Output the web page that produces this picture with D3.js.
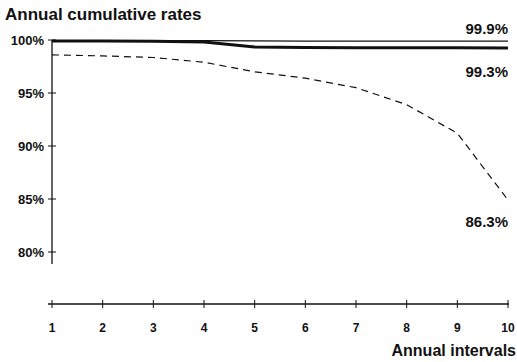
<!DOCTYPE html>
<html>
<head>
<meta charset="utf-8">
<script src="https://cdn.jsdelivr.net/npm/d3@7"></script>
<style>
  body { margin: 0; background: #fff; }
  text { font-family: "Liberation Sans", Arial, sans-serif; fill: #111; }
</style>
</head>
<body>
<div class="chart"></div>
<script>
// data
var intervals = [1, 2, 3, 4, 5, 6, 7, 8, 9, 10];
var upperRates = [99.95, 99.95, 99.95, 99.95, 99.92, 99.9, 99.9, 99.9, 99.9, 99.9];
var middleRates = [99.9, 99.9, 99.88, 99.8, 99.35, 99.3, 99.28, 99.27, 99.26, 99.25];
var lowerRates = [98.6, 98.5, 98.35, 97.9, 97.0, 96.4, 95.5, 93.9, 91.2, 84.9];
var yTicks = [100, 95, 90, 85, 80];
var endLabels = ["99.9%", "99.3%", "86.3%"];

var width = 517, height = 362;

var svg = d3.select(".chart")
  .append("svg")
  .attr("width", width)
  .attr("height", height);

var x = d3.scaleLinear().domain([1, 10]).range([52, 508]);
var y = d3.scaleLinear().domain([80, 100]).range([252, 40]);

// title
svg.append("text")
  .attr("x", 5)
  .attr("y", 20)
  .style("font-size", "17px")
  .style("font-weight", "bold")
  .text("Annual cumulative rates");

// y axis (stops short of the x axis)
var yAxis = svg.append("g");
yAxis.append("line")
  .attr("x1", x(1)).attr("x2", x(1))
  .attr("y1", y(100)).attr("y2", 264)
  .attr("stroke", "#111").attr("stroke-width", 1.3);
yAxis.selectAll(".ytick")
  .data(yTicks)
  .enter().append("line")
  .attr("x1", x(1) - 4).attr("x2", x(1) + 4)
  .attr("y1", function(d) { return y(d); })
  .attr("y2", function(d) { return y(d); })
  .attr("stroke", "#111").attr("stroke-width", 1);
yAxis.selectAll(".ylab")
  .data(yTicks)
  .enter().append("text")
  .attr("x", 44)
  .attr("y", function(d) { return y(d) + 4.5; })
  .attr("text-anchor", "end")
  .style("font-size", "13px")
  .style("font-weight", "bold")
  .text(function(d) { return d + "%"; });

// x axis
var axisY = 304;
var xAxis = svg.append("g");
xAxis.append("line")
  .attr("x1", x(1) - 4).attr("x2", x(10) + 1)
  .attr("y1", axisY).attr("y2", axisY)
  .attr("stroke", "#111").attr("stroke-width", 1.3);
xAxis.selectAll(".xtick")
  .data(intervals)
  .enter().append("line")
  .attr("x1", function(d) { return x(d); })
  .attr("x2", function(d) { return x(d); })
  .attr("y1", axisY - 4).attr("y2", axisY + 4)
  .attr("stroke", "#111").attr("stroke-width", 1);
xAxis.selectAll(".xlab")
  .data(intervals)
  .enter().append("text")
  .attr("x", function(d) { return x(d); })
  .attr("y", 332)
  .attr("text-anchor", "middle")
  .style("font-size", "12px")
  .style("font-weight", "bold")
  .text(function(d) { return d; });

svg.append("text")
  .attr("x", 516)
  .attr("y", 356)
  .attr("text-anchor", "end")
  .style("font-size", "16px")
  .style("font-weight", "bold")
  .text("Annual intervals");

// lines
var line = d3.line()
  .x(function(d, i) { return x(intervals[i]); })
  .y(function(d) { return y(d); });

svg.append("path")
  .datum(upperRates)
  .attr("d", line)
  .attr("fill", "none")
  .attr("stroke", "#111")
  .attr("stroke-width", 1.3);

svg.append("path")
  .datum(middleRates)
  .attr("d", line)
  .attr("fill", "none")
  .attr("stroke", "#111")
  .attr("stroke-width", 3);

svg.append("path")
  .datum(lowerRates)
  .attr("d", line)
  .attr("fill", "none")
  .attr("stroke", "#111")
  .attr("stroke-width", 1.2)
  .attr("stroke-dasharray", "7,5");

// end labels
var labelY = [34, 77, 227];
svg.selectAll(".endlab")
  .data(endLabels)
  .enter().append("text")
  .attr("x", 508)
  .attr("y", function(d, i) { return labelY[i]; })
  .attr("text-anchor", "end")
  .style("font-size", "15px")
  .style("font-weight", "bold")
  .text(function(d) { return d; });
</script>
</body>
</html>
